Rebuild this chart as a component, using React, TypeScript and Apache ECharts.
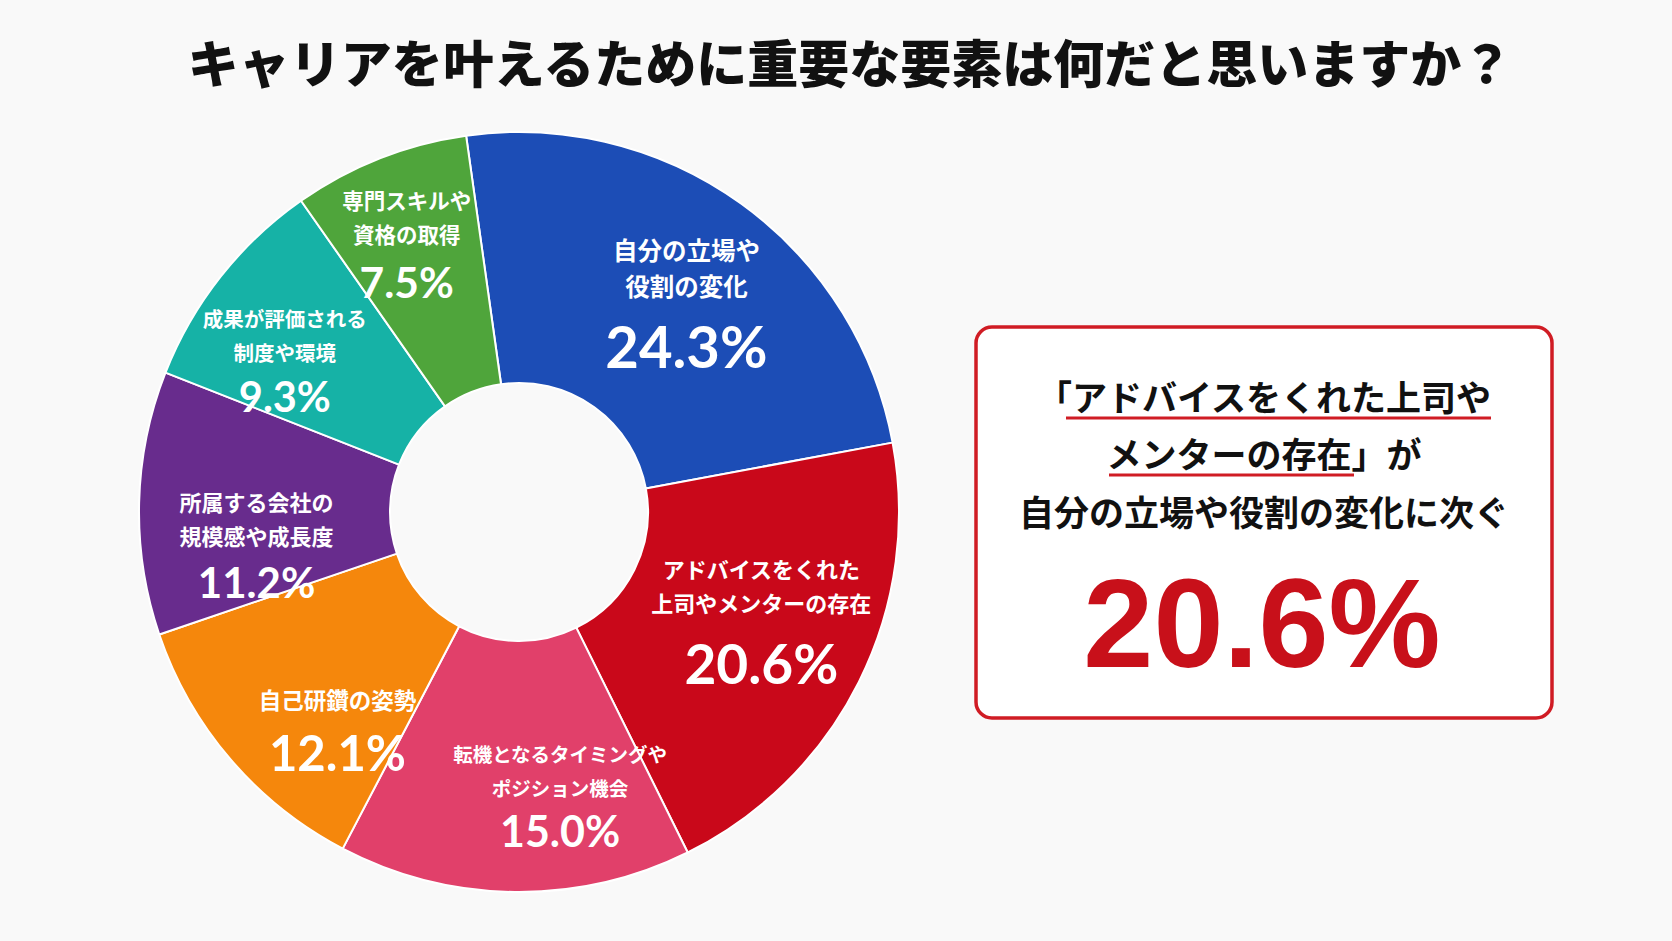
import * as echarts from "echarts";
import { useEffect, useRef } from "react";

const title = "キャリアを叶えるために重要な要素は何だと思いますか？";

const categories = [
  "自分の立場や\n役割の変化",
  "アドバイスをくれた\n上司やメンターの存在",
  "転機となるタイミングや\nポジション機会",
  "自己研鑽の姿勢",
  "所属する会社の\n規模感や成長度",
  "成果が評価される\n制度や環境",
  "専門スキルや\n資格の取得"
];
const shares = [24.3, 20.6, 15.0, 12.1, 11.2, 9.3, 7.5];
const colors = ["#1c4db6", "#c9081a", "#e1406a", "#f5870c", "#682c8d", "#16b2a6", "#4fa53b"];

const highlightLines = ["「アドバイスをくれた上司や", "メンターの存在」が", "自分の立場や役割の変化に次ぐ"];
const highlightValue = "20.6%";

// label tuning (style only)
const nameSizes = [24.5, 22, 19.5, 22.5, 22, 20.5, 21.5];
const nameLineHeights = [36, 34, 34, 34, 34, 34, 34];
const valueSizes = [58, 55, 43, 49, 42, 41.5, 42.5];
const valueLineHeights = [84, 88, 52, 72, 60, 54, 62];
const labelOffsets = [
  [17, 7],
  [12, 2],
  [44, 27],
  [14, 55],
  [-5, 42],
  [-32, 9],
  [-18, -25]
];

const jp = "'Noto Sans CJK JP', 'Noto Sans', sans-serif";
const num = "Lato, 'Noto Sans', sans-serif";

export default function App() {
  const chartRef = useRef<HTMLDivElement>(null);

  useEffect(() => {
    if (!chartRef.current) return;

    const chart = echarts.init(chartRef.current, null, { renderer: "svg" });

    const data = categories.map((name, i) => ({
      name,
      value: shares[i],
      itemStyle: { color: colors[i] },
      label: {
        offset: labelOffsets[i],
        formatter: () =>
          name
            .split("\n")
            .map((l) => `{n|${l}}`)
            .join("\n") + `\n{v|${shares[i].toFixed(1)}%}`,
        rich: {
          n: {
            color: "#fff",
            fontFamily: jp,
            fontWeight: "bold",
            fontSize: nameSizes[i],
            lineHeight: nameLineHeights[i]
          },
          v: {
            color: "#fff",
            fontFamily: num,
            fontWeight: "bold",
            fontSize: valueSizes[i],
            lineHeight: valueLineHeights[i]
          }
        }
      }
    }));

    chart.setOption({
      animation: false,
      backgroundColor: "#f9f9f9",
      title: {
        text: title,
        left: 845,
        top: 30,
        textAlign: "center",
        textStyle: {
          fontFamily: jp,
          fontSize: 51,
          fontWeight: 900,
          color: "#111"
        }
      },
      series: [
        {
          type: "pie",
          center: [519, 512],
          radius: [129, 380],
          startAngle: 98,
          clockwise: true,
          avoidLabelOverlap: false,
          itemStyle: { borderColor: "#ffffff", borderWidth: 2 },
          label: { show: true, position: "inside", align: "center" },
          labelLine: { show: false },
          emphasis: { disabled: true },
          data
        }
      ],
      graphic: [
        {
          type: "rect",
          shape: { x: 976, y: 327, width: 576, height: 391, r: 16 },
          style: { fill: "#ffffff", stroke: "#d01c24", lineWidth: 3.5 }
        },
        {
          type: "text",
          x: 1264,
          y: 395,
          style: {
            text: highlightLines[0],
            fill: "#111",
            font: `bold 35px ${jp}`,
            textAlign: "center",
            textVerticalAlign: "middle"
          }
        },
        {
          type: "line",
          shape: { x1: 1066, y1: 418, x2: 1491, y2: 418 },
          style: { stroke: "#d01c24", lineWidth: 3 }
        },
        {
          type: "text",
          x: 1264,
          y: 452,
          style: {
            text: highlightLines[1],
            fill: "#111",
            font: `bold 35px ${jp}`,
            textAlign: "center",
            textVerticalAlign: "middle"
          }
        },
        {
          type: "line",
          shape: { x1: 1109, y1: 475, x2: 1354, y2: 475 },
          style: { stroke: "#d01c24", lineWidth: 3 }
        },
        {
          type: "text",
          x: 1264,
          y: 510,
          style: {
            text: highlightLines[2],
            fill: "#111",
            font: `bold 35px ${jp}`,
            textAlign: "center",
            textVerticalAlign: "middle"
          }
        },
        {
          type: "text",
          x: 1262,
          y: 623,
          style: {
            text: highlightValue,
            fill: "#c8101a",
            font: "bold 126px 'Liberation Sans', Arial, sans-serif",
            textAlign: "center",
            textVerticalAlign: "middle"
          }
        }
      ]
    });

    return () => {
      chart.dispose();
    };
  }, []);

  return (
    <div
      ref={chartRef}
      style={{ position: "fixed", left: 0, top: 0, width: 1672, height: 941 }}
    />
  );
}
